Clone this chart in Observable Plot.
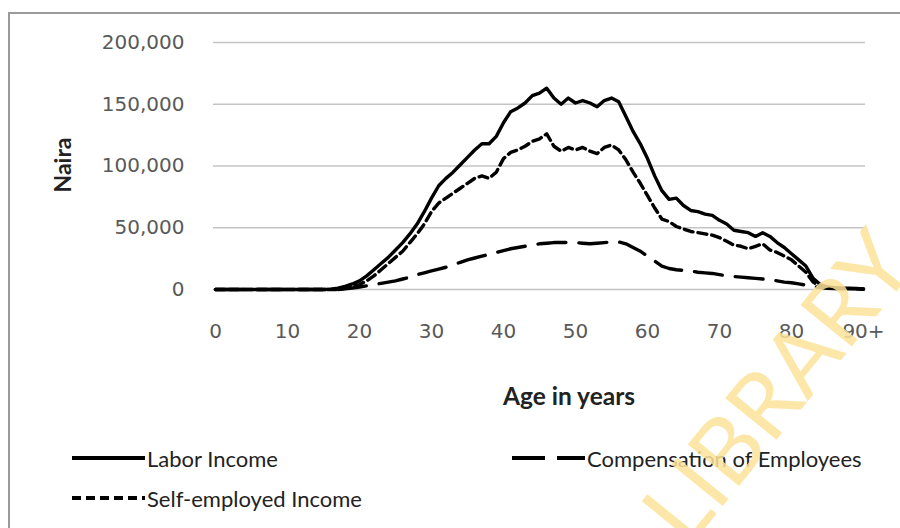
<!DOCTYPE html>
<html>
<head>
<meta charset="utf-8">
<script src="https://cdn.jsdelivr.net/npm/d3@7"></script>
<script src="https://cdn.jsdelivr.net/npm/@observablehq/plot@0.6"></script>
<style>
  html, body { margin: 0; padding: 0; background: #fff; }
  #wrap { position: relative; width: 900px; height: 528px; overflow: hidden; background: #fff; }
  #frame { position: absolute; left: 8px; top: 12px; width: 900px; height: 600px; border-left: 2px solid #9a9a9a; border-top: 2px solid #9a9a9a; box-sizing: border-box; }
  #chart { position: absolute; left: 0; top: 0; }
  .lbl { position: absolute; font-family: Lato, "Open Sans", sans-serif; color: #222; white-space: nowrap; }
  #ylab { left: 62px; top: 165px; transform: translate(-50%, -50%) rotate(-90deg); font-weight: bold; font-size: 23px; }
  #xlab { left: 569px; top: 395px; transform: translate(-50%, -50%); font-weight: bold; font-size: 24.5px; }
  #legend { position: absolute; left: 0; top: 0; pointer-events: none; }
  #wm { position: absolute; left: 0; top: 0; pointer-events: none; }
</style>
</head>
<body>
<div id="wrap">
  <div id="frame"></div>
  <div id="chart"></div>
  <div class="lbl" id="ylab">Naira</div>
  <div class="lbl" id="xlab">Age in years</div>
  <svg id="legend" width="900" height="528"></svg>
  <svg id="wm" width="900" height="528"></svg>
</div>
<script>
// Ages 0..90 (90 = "90+")
const ages = d3.range(0, 91);

// Values in thousands of Naira (one per age 0..90)
const laborIncome = [
  0,0,0,0,0,0,0,0,0,0,
  0,0,0,0,0,0,0.3,1,2.5,4.5,
  7,11,16,21,26,32,38,45,53,63,
  74,84,90,95,101,107,113,118,118,124,
  135,144,147,151,157,159,163,155,150,155,
  151,153,151,148,153,155,152,140,128,118,
  106,92,80,73,74,68,64,63,61,60,
  56,53,48,47,46,43,46,43,38,34,
  29,24,19,9,4,2,1.5,1,1,0.8,
  0.5
];
const selfEmployed = [
  0,0,0,0,0,0,0,0,0,0,
  0,0,0,0,0,0,0,0,1,2.5,
  4,7,11,16,21,26,31,38,45,53,
  63,70,74,78,82,86,90,92,90,95,
  106,111,113,116,120,122,126,116,112,115,
  113,115,112,110,115,117,113,105,95,86,
  76,66,57,55,51,49,47,46,45,44,
  42,39,36,35,33,35,37,32,30,27,
  24,19,14,6,2.5,1.5,1,0.8,0.6,0.5,
  0.4
];
const compensation = [
  0,0,0,0,0,0,0,0,0,0,
  0,0,0,0,0,0,0,0,0.5,1.2,
  2,3,4,5,6,7,8.5,10,12,13.5,
  15,16.5,18,20,22,24,25.5,27,28.5,30,
  31.5,33,34,35,36,37,37.5,38,38,38,
  38,37.5,37,37.5,38,38.5,38.5,37,34,31,
  27,23,19,17,16,15.5,15,14,13.5,13,
  12,11,10.5,10,9.5,9,8.5,8,7,6,
  5.5,4.5,3.5,2.5,1.5,1,0.7,0.5,0.4,0.3,
  0.2
];

const seriesNames = ["Labor Income", "Self-employed Income", "Compensation of Employees"];
const yTicks = [0, 50000, 100000, 150000, 200000];
const xTicks = [0, 10, 20, 30, 40, 50, 60, 70, 80, 90];

const toRows = (arr) => ages.map((a, i) => ({age: a, v: arr[i] * 1000}));
const laborRows = toRows(laborIncome);
const selfRows = toRows(selfEmployed);
const compRows = toRows(compensation);

const chart = Plot.plot({
  width: 900,
  height: 365,
  marginLeft: 213,
  marginRight: 35,
  marginTop: 42,
  marginBottom: 76,
  insetLeft: 2,
  insetRight: 2,
  style: {fontFamily: "'DejaVu Sans', sans-serif", fontSize: "20px", color: "#595959", background: "transparent", overflow: "visible"},
  x: {domain: [0, 90], ticks: xTicks, tickFormat: d => d === 90 ? "90+" : String(d), tickSize: 0, tickPadding: 34, label: null},
  y: {domain: [0, 200000], ticks: yTicks, tickFormat: d3.format(","), tickSize: 0, tickPadding: 29, label: null},
  marks: [
    Plot.ruleY(yTicks, {stroke: "#c4c4c4", strokeWidth: 1.6}),
    Plot.line(compRows, {x: "age", y: "v", stroke: "#000", strokeWidth: 3.4, strokeDasharray: "28,13"}),
    Plot.line(selfRows, {x: "age", y: "v", stroke: "#000", strokeWidth: 3.4, strokeDasharray: "9,5"}),
    Plot.line(laborRows, {x: "age", y: "v", stroke: "#000", strokeWidth: 3.4})
  ]
});
document.getElementById("chart").appendChild(chart);

// Legend
const ns = "http://www.w3.org/2000/svg";
const leg = document.getElementById("legend");
function el(tag, attrs, text) {
  const e = document.createElementNS(ns, tag);
  for (const k in attrs) e.setAttribute(k, attrs[k]);
  if (text) e.textContent = text;
  leg.appendChild(e);
  return e;
}
const legendItems = [
  {name: seriesNames[0], x: 72, y: 458, dash: null},
  {name: seriesNames[2], x: 512, y: 458, dash: "33,12"},
  {name: seriesNames[1], x: 72, y: 498, dash: "9,5"}
];
legendItems.forEach(it => {
  const attrs = {x1: it.x, x2: it.x + 73, y1: it.y, y2: it.y, stroke: "#000", "stroke-width": 4};
  if (it.dash) attrs["stroke-dasharray"] = it.dash;
  el("line", attrs);
  el("text", {x: it.x + 75, y: it.y, "dominant-baseline": "central", "font-family": "Lato, 'Open Sans', sans-serif", "font-size": 22, fill: "#222"}, it.name);
});

// Watermark
const wm = document.getElementById("wm");
const t = document.createElementNS(ns, "text");
t.setAttribute("transform", "translate(775,385) rotate(-51)");
t.setAttribute("text-anchor", "middle");
t.setAttribute("dominant-baseline", "central");
t.setAttribute("font-family", "Lato, sans-serif");
t.setAttribute("font-size", 92);
t.setAttribute("fill", "#fde39a");
t.setAttribute("opacity", 0.85);
t.textContent = "LIBRARY";
wm.appendChild(t);
</script>
</body>
</html>
